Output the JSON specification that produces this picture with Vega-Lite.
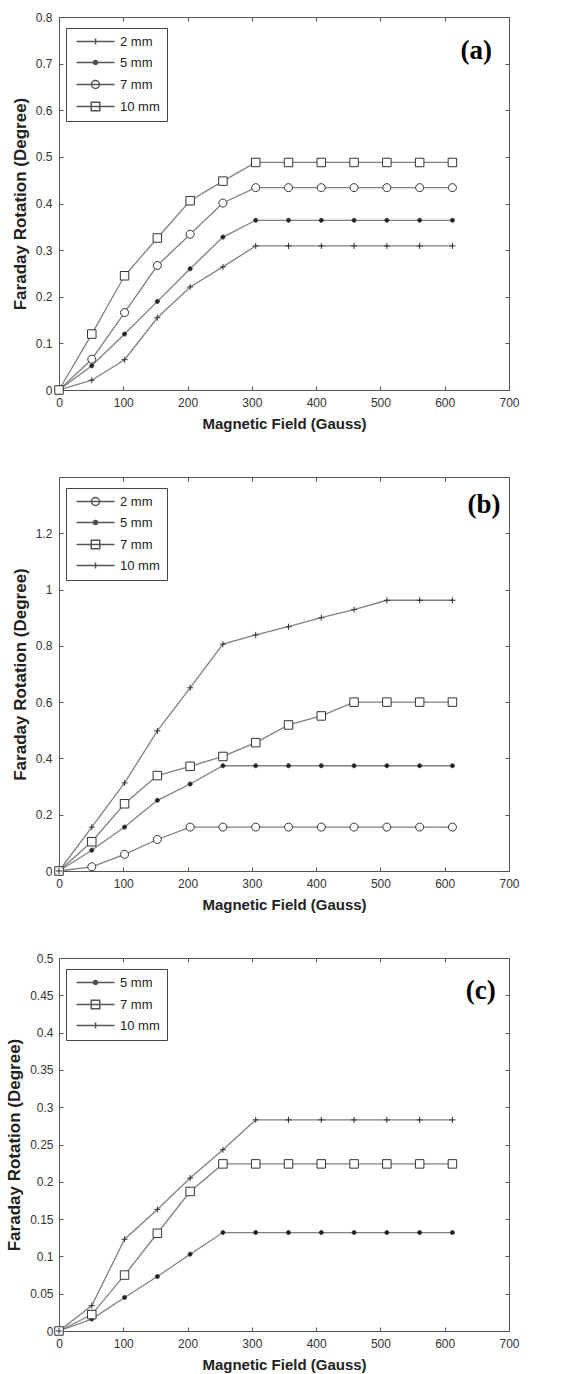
{
  "$schema": "https://vega.github.io/schema/vega-lite/v6.json",
  "description": "Faraday rotation versus magnetic field for several sample thicknesses, three panels.",
  "padding": {"top": 10, "left": 5, "right": 5, "bottom": 0},
  "spacing": 38,
  "resolve": {"scale": {"shape": "independent", "fill": "independent"}, "legend": {"shape": "independent", "fill": "independent"}},
  "datasets": {
    "a": [
      {"x": 0, "y": 0, "s": "2 mm"}, {"x": 51, "y": 0.021, "s": "2 mm"}, {"x": 102, "y": 0.065, "s": "2 mm"}, {"x": 153, "y": 0.155, "s": "2 mm"}, {"x": 204, "y": 0.221, "s": "2 mm"}, {"x": 255, "y": 0.264, "s": "2 mm"}, {"x": 306, "y": 0.309, "s": "2 mm"}, {"x": 357, "y": 0.309, "s": "2 mm"}, {"x": 408, "y": 0.309, "s": "2 mm"}, {"x": 459, "y": 0.309, "s": "2 mm"}, {"x": 510, "y": 0.309, "s": "2 mm"}, {"x": 561, "y": 0.309, "s": "2 mm"}, {"x": 612, "y": 0.309, "s": "2 mm"},
      {"x": 0, "y": 0, "s": "5 mm"}, {"x": 51, "y": 0.052, "s": "5 mm"}, {"x": 102, "y": 0.12, "s": "5 mm"}, {"x": 153, "y": 0.19, "s": "5 mm"}, {"x": 204, "y": 0.26, "s": "5 mm"}, {"x": 255, "y": 0.328, "s": "5 mm"}, {"x": 306, "y": 0.364, "s": "5 mm"}, {"x": 357, "y": 0.364, "s": "5 mm"}, {"x": 408, "y": 0.364, "s": "5 mm"}, {"x": 459, "y": 0.364, "s": "5 mm"}, {"x": 510, "y": 0.364, "s": "5 mm"}, {"x": 561, "y": 0.364, "s": "5 mm"}, {"x": 612, "y": 0.364, "s": "5 mm"},
      {"x": 0, "y": 0, "s": "7 mm"}, {"x": 51, "y": 0.066, "s": "7 mm"}, {"x": 102, "y": 0.166, "s": "7 mm"}, {"x": 153, "y": 0.267, "s": "7 mm"}, {"x": 204, "y": 0.334, "s": "7 mm"}, {"x": 255, "y": 0.401, "s": "7 mm"}, {"x": 306, "y": 0.434, "s": "7 mm"}, {"x": 357, "y": 0.434, "s": "7 mm"}, {"x": 408, "y": 0.434, "s": "7 mm"}, {"x": 459, "y": 0.434, "s": "7 mm"}, {"x": 510, "y": 0.434, "s": "7 mm"}, {"x": 561, "y": 0.434, "s": "7 mm"}, {"x": 612, "y": 0.434, "s": "7 mm"},
      {"x": 0, "y": 0, "s": "10 mm"}, {"x": 51, "y": 0.12, "s": "10 mm"}, {"x": 102, "y": 0.245, "s": "10 mm"}, {"x": 153, "y": 0.326, "s": "10 mm"}, {"x": 204, "y": 0.406, "s": "10 mm"}, {"x": 255, "y": 0.448, "s": "10 mm"}, {"x": 306, "y": 0.488, "s": "10 mm"}, {"x": 357, "y": 0.488, "s": "10 mm"}, {"x": 408, "y": 0.488, "s": "10 mm"}, {"x": 459, "y": 0.488, "s": "10 mm"}, {"x": 510, "y": 0.488, "s": "10 mm"}, {"x": 561, "y": 0.488, "s": "10 mm"}, {"x": 612, "y": 0.488, "s": "10 mm"}
    ],
    "b": [
      {"x": 0, "y": 0, "s": "2 mm"}, {"x": 51, "y": 0.015, "s": "2 mm"}, {"x": 102, "y": 0.059, "s": "2 mm"}, {"x": 153, "y": 0.112, "s": "2 mm"}, {"x": 204, "y": 0.156, "s": "2 mm"}, {"x": 255, "y": 0.156, "s": "2 mm"}, {"x": 306, "y": 0.156, "s": "2 mm"}, {"x": 357, "y": 0.156, "s": "2 mm"}, {"x": 408, "y": 0.156, "s": "2 mm"}, {"x": 459, "y": 0.156, "s": "2 mm"}, {"x": 510, "y": 0.156, "s": "2 mm"}, {"x": 561, "y": 0.156, "s": "2 mm"}, {"x": 612, "y": 0.156, "s": "2 mm"},
      {"x": 0, "y": 0, "s": "5 mm"}, {"x": 51, "y": 0.074, "s": "5 mm"}, {"x": 102, "y": 0.156, "s": "5 mm"}, {"x": 153, "y": 0.251, "s": "5 mm"}, {"x": 204, "y": 0.309, "s": "5 mm"}, {"x": 255, "y": 0.374, "s": "5 mm"}, {"x": 306, "y": 0.374, "s": "5 mm"}, {"x": 357, "y": 0.374, "s": "5 mm"}, {"x": 408, "y": 0.374, "s": "5 mm"}, {"x": 459, "y": 0.374, "s": "5 mm"}, {"x": 510, "y": 0.374, "s": "5 mm"}, {"x": 561, "y": 0.374, "s": "5 mm"}, {"x": 612, "y": 0.374, "s": "5 mm"},
      {"x": 0, "y": 0, "s": "7 mm"}, {"x": 51, "y": 0.104, "s": "7 mm"}, {"x": 102, "y": 0.239, "s": "7 mm"}, {"x": 153, "y": 0.339, "s": "7 mm"}, {"x": 204, "y": 0.372, "s": "7 mm"}, {"x": 255, "y": 0.407, "s": "7 mm"}, {"x": 306, "y": 0.456, "s": "7 mm"}, {"x": 357, "y": 0.519, "s": "7 mm"}, {"x": 408, "y": 0.551, "s": "7 mm"}, {"x": 459, "y": 0.6, "s": "7 mm"}, {"x": 510, "y": 0.6, "s": "7 mm"}, {"x": 561, "y": 0.6, "s": "7 mm"}, {"x": 612, "y": 0.6, "s": "7 mm"},
      {"x": 0, "y": 0, "s": "10 mm"}, {"x": 51, "y": 0.156, "s": "10 mm"}, {"x": 102, "y": 0.313, "s": "10 mm"}, {"x": 153, "y": 0.498, "s": "10 mm"}, {"x": 204, "y": 0.651, "s": "10 mm"}, {"x": 255, "y": 0.806, "s": "10 mm"}, {"x": 306, "y": 0.839, "s": "10 mm"}, {"x": 357, "y": 0.868, "s": "10 mm"}, {"x": 408, "y": 0.9, "s": "10 mm"}, {"x": 459, "y": 0.929, "s": "10 mm"}, {"x": 510, "y": 0.962, "s": "10 mm"}, {"x": 561, "y": 0.962, "s": "10 mm"}, {"x": 612, "y": 0.962, "s": "10 mm"}
    ],
    "c": [
      {"x": 0, "y": 0, "s": "5 mm"}, {"x": 51, "y": 0.016, "s": "5 mm"}, {"x": 102, "y": 0.045, "s": "5 mm"}, {"x": 153, "y": 0.073, "s": "5 mm"}, {"x": 204, "y": 0.103, "s": "5 mm"}, {"x": 255, "y": 0.132, "s": "5 mm"}, {"x": 306, "y": 0.132, "s": "5 mm"}, {"x": 357, "y": 0.132, "s": "5 mm"}, {"x": 408, "y": 0.132, "s": "5 mm"}, {"x": 459, "y": 0.132, "s": "5 mm"}, {"x": 510, "y": 0.132, "s": "5 mm"}, {"x": 561, "y": 0.132, "s": "5 mm"}, {"x": 612, "y": 0.132, "s": "5 mm"},
      {"x": 0, "y": 0, "s": "7 mm"}, {"x": 51, "y": 0.022, "s": "7 mm"}, {"x": 102, "y": 0.075, "s": "7 mm"}, {"x": 153, "y": 0.131, "s": "7 mm"}, {"x": 204, "y": 0.187, "s": "7 mm"}, {"x": 255, "y": 0.224, "s": "7 mm"}, {"x": 306, "y": 0.224, "s": "7 mm"}, {"x": 357, "y": 0.224, "s": "7 mm"}, {"x": 408, "y": 0.224, "s": "7 mm"}, {"x": 459, "y": 0.224, "s": "7 mm"}, {"x": 510, "y": 0.224, "s": "7 mm"}, {"x": 561, "y": 0.224, "s": "7 mm"}, {"x": 612, "y": 0.224, "s": "7 mm"},
      {"x": 0, "y": 0, "s": "10 mm"}, {"x": 51, "y": 0.034, "s": "10 mm"}, {"x": 102, "y": 0.123, "s": "10 mm"}, {"x": 153, "y": 0.163, "s": "10 mm"}, {"x": 204, "y": 0.205, "s": "10 mm"}, {"x": 255, "y": 0.243, "s": "10 mm"}, {"x": 306, "y": 0.283, "s": "10 mm"}, {"x": 357, "y": 0.283, "s": "10 mm"}, {"x": 408, "y": 0.283, "s": "10 mm"}, {"x": 459, "y": 0.283, "s": "10 mm"}, {"x": 510, "y": 0.283, "s": "10 mm"}, {"x": 561, "y": 0.283, "s": "10 mm"}, {"x": 612, "y": 0.283, "s": "10 mm"}
    ]
  },
  "vconcat": [
    {
      "width": 450,
      "height": 373,
      "data": {"name": "a"},
      "resolve": {"axis": {"x": "independent", "y": "independent"}, "scale": {"shape": "independent", "fill": "independent"}, "legend": {"shape": "independent", "fill": "independent"}},
      "layer": [
        {
          "mark": {"type": "line", "color": "#808080", "strokeWidth": 1.3},
          "encoding": {
            "x": {"field": "x", "type": "quantitative", "title": "Magnetic Field (Gauss)", "scale": {"domain": [0, 700], "nice": false},
              "axis": {"values": [0, 100, 200, 300, 400, 500, 600, 700], "tickSize": -4, "labelPadding": 11, "titlePadding": 8}},
            "y": {"field": "y", "type": "quantitative", "title": "Faraday Rotation (Degree)", "scale": {"domain": [0, 0.8], "nice": false},
              "axis": {"values": [0, 0.1, 0.2, 0.3, 0.4, 0.5, 0.6, 0.7, 0.8], "format": "~g", "tickSize": -4, "labelPadding": 11, "titlePadding": 6}},
            "detail": {"field": "s"}
          }
        },
        {
          "mark": {"type": "point", "size": 100, "stroke": "#333", "strokeWidth": 1, "opacity": 1},
          "encoding": {
            "x": {"field": "x", "type": "quantitative", "axis": null, "scale": {"domain": [0, 700], "nice": false}},
            "y": {"field": "y", "type": "quantitative", "axis": null, "scale": {"domain": [0, 0.8], "nice": false}},
            "shape": {"field": "s", "type": "nominal", "legend": null,
              "scale": {"domain": ["2 mm", "5 mm", "7 mm", "10 mm"], "range": ["M-0.6,0L0.6,0M0,-0.6L0,0.6", "M-0.4,0A0.4,0.4,0,1,0,0.4,0A0.4,0.4,0,1,0,-0.4,0Z", "M-0.8,0A0.8,0.8,0,1,0,0.8,0A0.8,0.8,0,1,0,-0.8,0Z", "M-0.85,-0.85L0.85,-0.85L0.85,0.85L-0.85,0.85Z"]}},
            "fill": {"field": "s", "type": "nominal", "legend": null,
              "scale": {"domain": ["2 mm", "5 mm", "7 mm", "10 mm"], "range": ["white", "#222", "white", "white"]}}
          }
        },
        {
          "data": {"values": []},
          "mark": {"type": "point", "size": 100, "stroke": "#555", "strokeWidth": 1, "opacity": 1},
          "encoding": {
            "shape": {"field": "s", "type": "nominal",
              "scale": {"domain": ["2 mm", "5 mm", "7 mm", "10 mm"], "range": ["M-3.8,0L3.8,0M0,-0.6L0,0.6", "M-3.8,0L3.8,0M-0.4,0A0.4,0.4,0,1,0,0.4,0A0.4,0.4,0,1,0,-0.4,0Z", "M-3.8,0L3.8,0M-0.8,0A0.8,0.8,0,1,0,0.8,0A0.8,0.8,0,1,0,-0.8,0Z", "M-3.8,0L3.8,0M-0.85,-0.85L0.85,-0.85L0.85,0.85L-0.85,0.85Z"]}},
            "fill": {"field": "s", "type": "nominal",
              "scale": {"domain": ["2 mm", "5 mm", "7 mm", "10 mm"], "range": ["white", "#222", "white", "white"]}}
          }
        },
        {
          "data": {"values": [{"label": "(a)"}]},
          "mark": {"type": "text", "font": "Liberation Serif", "fontSize": 27, "fontWeight": "bold", "color": "black", "align": "center", "baseline": "middle"},
          "encoding": {
            "x": {"datum": 649, "type": "quantitative", "axis": null, "scale": {"domain": [0, 700], "nice": false}},
            "y": {"datum": 0.727, "type": "quantitative", "axis": null, "scale": {"domain": [0, 0.8], "nice": false}},
            "text": {"field": "label"}
          }
        },
        {
          "mark": {"type": "point", "opacity": 0},
          "encoding": {
            "x": {"field": "x", "type": "quantitative", "scale": {"domain": [0, 700], "nice": false},
              "axis": {"orient": "top", "labels": false, "title": null, "values": [0, 100, 200, 300, 400, 500, 600, 700], "tickSize": -4}},
            "y": {"field": "y", "type": "quantitative", "scale": {"domain": [0, 0.8], "nice": false},
              "axis": {"orient": "right", "labels": false, "title": null, "values": [0, 0.1, 0.2, 0.3, 0.4, 0.5, 0.6, 0.7, 0.8], "tickSize": -4}}
          }
        }
      ]
    },
    {
      "width": 450,
      "height": 394,
      "data": {"name": "b"},
      "resolve": {"axis": {"x": "independent", "y": "independent"}, "scale": {"shape": "independent", "fill": "independent"}, "legend": {"shape": "independent", "fill": "independent"}},
      "layer": [
        {
          "mark": {"type": "line", "color": "#808080", "strokeWidth": 1.3},
          "encoding": {
            "x": {"field": "x", "type": "quantitative", "title": "Magnetic Field (Gauss)", "scale": {"domain": [0, 700], "nice": false},
              "axis": {"values": [0, 100, 200, 300, 400, 500, 600, 700], "tickSize": -4, "labelPadding": 11, "titlePadding": 8}},
            "y": {"field": "y", "type": "quantitative", "title": "Faraday Rotation (Degree)", "scale": {"domain": [0, 1.4], "nice": false},
              "axis": {"values": [0, 0.2, 0.4, 0.6, 0.8, 1, 1.2, 1.4], "labelExpr": "datum.value > 1.3 ? '' : format(datum.value, '~g')", "tickSize": -4, "labelPadding": 11, "titlePadding": 6}},
            "detail": {"field": "s"}
          }
        },
        {
          "mark": {"type": "point", "size": 100, "stroke": "#333", "strokeWidth": 1, "opacity": 1},
          "encoding": {
            "x": {"field": "x", "type": "quantitative", "axis": null, "scale": {"domain": [0, 700], "nice": false}},
            "y": {"field": "y", "type": "quantitative", "axis": null, "scale": {"domain": [0, 1.4], "nice": false}},
            "shape": {"field": "s", "type": "nominal", "legend": null,
              "scale": {"domain": ["2 mm", "5 mm", "7 mm", "10 mm"], "range": ["M-0.8,0A0.8,0.8,0,1,0,0.8,0A0.8,0.8,0,1,0,-0.8,0Z", "M-0.4,0A0.4,0.4,0,1,0,0.4,0A0.4,0.4,0,1,0,-0.4,0Z", "M-0.85,-0.85L0.85,-0.85L0.85,0.85L-0.85,0.85Z", "M-0.6,0L0.6,0M0,-0.6L0,0.6"]}},
            "fill": {"field": "s", "type": "nominal", "legend": null,
              "scale": {"domain": ["2 mm", "5 mm", "7 mm", "10 mm"], "range": ["white", "#222", "white", "white"]}}
          }
        },
        {
          "data": {"values": []},
          "mark": {"type": "point", "size": 100, "stroke": "#555", "strokeWidth": 1, "opacity": 1},
          "encoding": {
            "shape": {"field": "s", "type": "nominal",
              "scale": {"domain": ["2 mm", "5 mm", "7 mm", "10 mm"], "range": ["M-3.8,0L3.8,0M-0.8,0A0.8,0.8,0,1,0,0.8,0A0.8,0.8,0,1,0,-0.8,0Z", "M-3.8,0L3.8,0M-0.4,0A0.4,0.4,0,1,0,0.4,0A0.4,0.4,0,1,0,-0.4,0Z", "M-3.8,0L3.8,0M-0.85,-0.85L0.85,-0.85L0.85,0.85L-0.85,0.85Z", "M-3.8,0L3.8,0M0,-0.6L0,0.6"]}},
            "fill": {"field": "s", "type": "nominal",
              "scale": {"domain": ["2 mm", "5 mm", "7 mm", "10 mm"], "range": ["white", "#222", "white", "white"]}}
          }
        },
        {
          "data": {"values": [{"label": "(b)"}]},
          "mark": {"type": "text", "font": "Liberation Serif", "fontSize": 27, "fontWeight": "bold", "color": "black", "align": "center", "baseline": "middle"},
          "encoding": {
            "x": {"datum": 661, "type": "quantitative", "axis": null, "scale": {"domain": [0, 700], "nice": false}},
            "y": {"datum": 1.3, "type": "quantitative", "axis": null, "scale": {"domain": [0, 1.4], "nice": false}},
            "text": {"field": "label"}
          }
        },
        {
          "mark": {"type": "point", "opacity": 0},
          "encoding": {
            "x": {"field": "x", "type": "quantitative", "scale": {"domain": [0, 700], "nice": false},
              "axis": {"orient": "top", "labels": false, "title": null, "values": [0, 100, 200, 300, 400, 500, 600, 700], "tickSize": -4}},
            "y": {"field": "y", "type": "quantitative", "scale": {"domain": [0, 1.4], "nice": false},
              "axis": {"orient": "right", "labels": false, "title": null, "values": [0, 0.2, 0.4, 0.6, 0.8, 1, 1.2, 1.4], "tickSize": -4}}
          }
        }
      ]
    },
    {
      "width": 450,
      "height": 373,
      "data": {"name": "c"},
      "resolve": {"axis": {"x": "independent", "y": "independent"}, "scale": {"shape": "independent", "fill": "independent"}, "legend": {"shape": "independent", "fill": "independent"}},
      "layer": [
        {
          "mark": {"type": "line", "color": "#808080", "strokeWidth": 1.3},
          "encoding": {
            "x": {"field": "x", "type": "quantitative", "title": "Magnetic Field (Gauss)", "scale": {"domain": [0, 700], "nice": false},
              "axis": {"values": [0, 100, 200, 300, 400, 500, 600, 700], "tickSize": -4, "labelPadding": 11, "titlePadding": 8}},
            "y": {"field": "y", "type": "quantitative", "title": "Faraday Rotation (Degree)", "scale": {"domain": [0, 0.5], "nice": false},
              "axis": {"values": [0, 0.05, 0.1, 0.15, 0.2, 0.25, 0.3, 0.35, 0.4, 0.45, 0.5], "format": "~g", "tickSize": -4, "labelPadding": 10, "titlePadding": 6}},
            "detail": {"field": "s"}
          }
        },
        {
          "mark": {"type": "point", "size": 100, "stroke": "#333", "strokeWidth": 1, "opacity": 1},
          "encoding": {
            "x": {"field": "x", "type": "quantitative", "axis": null, "scale": {"domain": [0, 700], "nice": false}},
            "y": {"field": "y", "type": "quantitative", "axis": null, "scale": {"domain": [0, 0.5], "nice": false}},
            "shape": {"field": "s", "type": "nominal", "legend": null,
              "scale": {"domain": ["5 mm", "7 mm", "10 mm"], "range": ["M-0.4,0A0.4,0.4,0,1,0,0.4,0A0.4,0.4,0,1,0,-0.4,0Z", "M-0.85,-0.85L0.85,-0.85L0.85,0.85L-0.85,0.85Z", "M-0.6,0L0.6,0M0,-0.6L0,0.6"]}},
            "fill": {"field": "s", "type": "nominal", "legend": null,
              "scale": {"domain": ["5 mm", "7 mm", "10 mm"], "range": ["#222", "white", "white"]}}
          }
        },
        {
          "data": {"values": []},
          "mark": {"type": "point", "size": 100, "stroke": "#555", "strokeWidth": 1, "opacity": 1},
          "encoding": {
            "shape": {"field": "s", "type": "nominal",
              "scale": {"domain": ["5 mm", "7 mm", "10 mm"], "range": ["M-3.8,0L3.8,0M-0.4,0A0.4,0.4,0,1,0,0.4,0A0.4,0.4,0,1,0,-0.4,0Z", "M-3.8,0L3.8,0M-0.85,-0.85L0.85,-0.85L0.85,0.85L-0.85,0.85Z", "M-3.8,0L3.8,0M0,-0.6L0,0.6"]}},
            "fill": {"field": "s", "type": "nominal",
              "scale": {"domain": ["5 mm", "7 mm", "10 mm"], "range": ["#222", "white", "white"]}}
          }
        },
        {
          "data": {"values": [{"label": "(c)"}]},
          "mark": {"type": "text", "font": "Liberation Serif", "fontSize": 27, "fontWeight": "bold", "color": "black", "align": "center", "baseline": "middle"},
          "encoding": {
            "x": {"datum": 656, "type": "quantitative", "axis": null, "scale": {"domain": [0, 700], "nice": false}},
            "y": {"datum": 0.456, "type": "quantitative", "axis": null, "scale": {"domain": [0, 0.5], "nice": false}},
            "text": {"field": "label"}
          }
        },
        {
          "mark": {"type": "point", "opacity": 0},
          "encoding": {
            "x": {"field": "x", "type": "quantitative", "scale": {"domain": [0, 700], "nice": false},
              "axis": {"orient": "top", "labels": false, "title": null, "values": [0, 100, 200, 300, 400, 500, 600, 700], "tickSize": -4}},
            "y": {"field": "y", "type": "quantitative", "scale": {"domain": [0, 0.5], "nice": false},
              "axis": {"orient": "right", "labels": false, "title": null, "values": [0, 0.05, 0.1, 0.15, 0.2, 0.25, 0.3, 0.35, 0.4, 0.45, 0.5], "tickSize": -4}}
          }
        }
      ]
    }
  ],
  "config": {
    "view": {"stroke": "#555", "strokeWidth": 1},
    "axis": {
      "labelFont": "Liberation Sans", "labelFontSize": 12, "labelColor": "#333", "labelFlush": false, "labelOverlap": false,
      "titleFont": "Liberation Sans", "titleFontSize": 15, "titleFontWeight": "bold", "titleColor": "#222",
      "tickColor": "#555", "domain": false, "grid": false
    },
    "axisY": {"titleFontSize": 17},
    "legend": {
      "orient": "none", "legendX": 7, "legendY": 11, "title": null, "padding": 7,
      "strokeColor": "#444", "fillColor": "white",
      "symbolSize": 100, "symbolOffset": 16, "labelOffset": 18, "rowPadding": 7,
      "labelFont": "Liberation Sans", "labelFontSize": 13, "labelColor": "#222"
    }
  }
}
